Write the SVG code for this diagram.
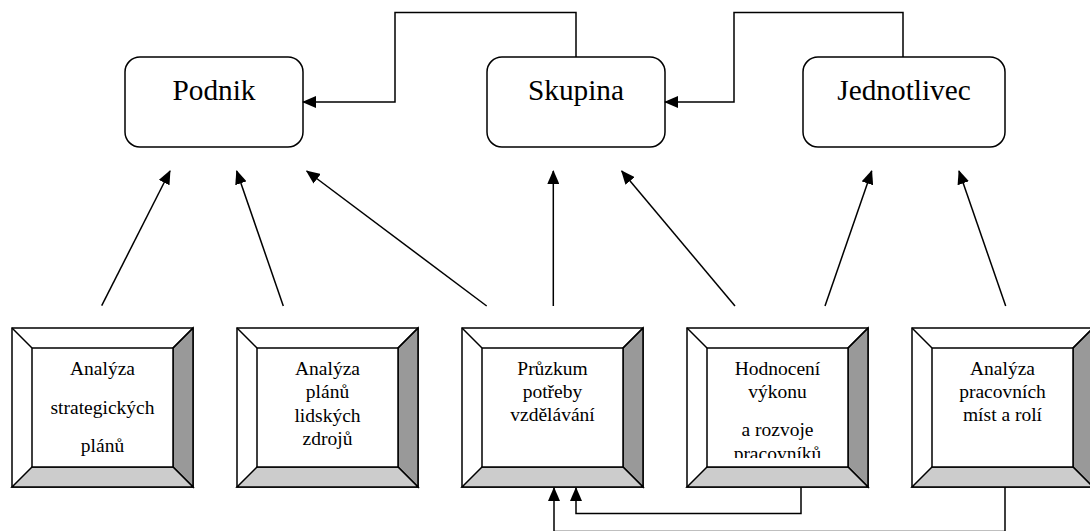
<svg xmlns="http://www.w3.org/2000/svg" xmlns:xlink="http://www.w3.org/1999/xlink" width="1090" height="531" viewBox="0 0 1090 531">
<style>
.rbox{fill:#fff;stroke:#000;stroke-width:1.5}
text{font-family:'Liberation Serif','Times New Roman',Tinos,'DejaVu Serif',serif;fill:#000;text-anchor:middle}
.ttl{font-size:29.3px}
.lbl{font-size:19.5px}
.ln{fill:none;stroke:#000;stroke-width:1.5}
.bv{stroke:#000;stroke-width:1.5;stroke-linejoin:miter}
</style>
<defs>
<marker id="ah" markerUnits="userSpaceOnUse" viewBox="0 0 14 12" refX="13" refY="6" markerWidth="14" markerHeight="12" orient="auto">
<path d="M0,0 L14,6 L0,12 Z" fill="#000"/>
</marker>
<g id="bevel">
<rect x="0" y="0" width="181" height="159" fill="#fff" class="bv"/>
<polygon points="181,0 181,159 161,139 161,20" fill="#999" class="bv"/>
<polygon points="0,159 181,159 161,139 20,139" fill="#ccc" class="bv"/>
<rect x="20" y="20" width="141" height="119" fill="#fff" class="bv"/>
<path d="M0,0 L20,20 M181,0 L161,20" class="bv" fill="none"/>
</g>
<clipPath id="clip4"><rect x="709" y="348" width="140" height="110"/></clipPath>
</defs>

<g id="podnik">
<rect class="rbox" x="125" y="57" width="178" height="90" rx="15" ry="15"/>
<text class="ttl" x="214" y="100">Podnik</text>
</g>
<g id="skupina">
<rect class="rbox" x="487" y="57" width="178" height="90" rx="15" ry="15"/>
<text class="ttl" x="576" y="100">Skupina</text>
</g>
<g id="jednotlivec">
<rect class="rbox" x="803" y="57" width="202" height="90" rx="15" ry="15"/>
<text class="ttl" x="904" y="100">Jednotlivec</text>
</g>

<g id="box1">
<use xlink:href="#bevel" x="12" y="328"/>
<text class="lbl" x="102.5" y="375">Analýza</text>
<text class="lbl" x="102.5" y="414">strategických</text>
<text class="lbl" x="102.5" y="452">plánů</text>
</g>
<g id="box2">
<use xlink:href="#bevel" x="237" y="328"/>
<text class="lbl" x="327.5" y="375">Analýza</text>
<text class="lbl" x="327.5" y="398.3">plánů</text>
<text class="lbl" x="327.5" y="421.7">lidských</text>
<text class="lbl" x="327.5" y="445">zdrojů</text>
</g>
<g id="box3">
<use xlink:href="#bevel" x="462" y="328"/>
<text class="lbl" x="552.5" y="375">Průzkum</text>
<text class="lbl" x="552.5" y="398">potřeby</text>
<text class="lbl" x="552.5" y="420.7">vzdělávání</text>
</g>
<g id="box4">
<use xlink:href="#bevel" x="687" y="328"/>
<g clip-path="url(#clip4)">
<text class="lbl" x="777.5" y="375">Hodnocení</text>
<text class="lbl" x="777.5" y="397.7">výkonu</text>
<text class="lbl" x="777.5" y="435.7">a rozvoje</text>
<text class="lbl" x="777.5" y="460">pracovníků</text>
</g>
</g>
<g id="box5">
<use xlink:href="#bevel" x="912" y="328"/>
<text class="lbl" x="1002.5" y="375">Analýza</text>
<text class="lbl" x="1002.5" y="398">pracovních</text>
<text class="lbl" x="1002.5" y="420.7">míst a rolí</text>
</g>

<g id="connectors">
<path class="ln" d="M576,57 V12.5 H395 V102 H303" marker-end="url(#ah)"/>
<path class="ln" d="M903,57 V12.5 H734 V102 H665" marker-end="url(#ah)"/>
<path class="ln" d="M101.7,305.7 L170,171" marker-end="url(#ah)"/>
<path class="ln" d="M283.3,306 L236.7,171" marker-end="url(#ah)"/>
<path class="ln" d="M486.7,306 L306.7,171" marker-end="url(#ah)"/>
<path class="ln" d="M553.3,306 L553.3,171" marker-end="url(#ah)"/>
<path class="ln" d="M735,306 L621.7,171" marker-end="url(#ah)"/>
<path class="ln" d="M825,306 L871.7,171" marker-end="url(#ah)"/>
<path class="ln" d="M1005.7,306 L959,171" marker-end="url(#ah)"/>
<path class="ln" d="M801,487 V513.5 H576 V488" marker-end="url(#ah)"/>
<path class="ln" d="M1005,487 V531.5 H554 V488" marker-end="url(#ah)"/>
</g>
</svg>
